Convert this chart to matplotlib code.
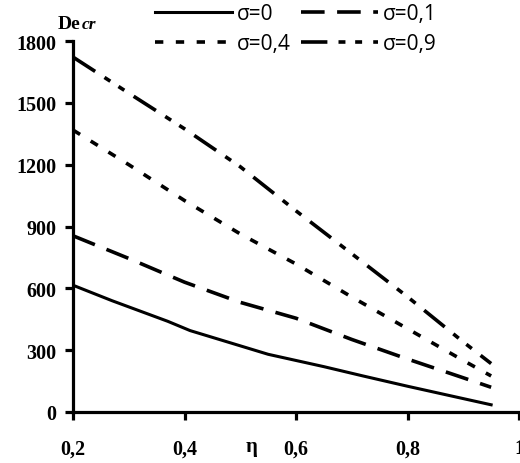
import matplotlib
matplotlib.use("Agg")
import matplotlib.pyplot as plt

# eta values and critical Deborah numbers for each sigma
eta = [0.2, 0.3, 0.4, 0.5, 0.6, 0.7, 0.8, 0.9, 0.95]
eta_s0 = [0.2, 0.27, 0.37, 0.41, 0.55, 0.65, 0.72, 0.8, 0.95]
de_s0 = [615, 540, 440, 395, 280, 220, 175, 125, 35]
de_s01 = [855, 745, 630, 532, 455, 352, 257, 166, 120]
de_s04 = [1368, 1200, 1026, 864, 718, 558, 404, 250, 175]
de_s09 = [1722, 1547, 1374, 1190, 976, 768, 559, 340, 235]

labels = ["σ=0", "σ=0,1", "σ=0,4", "σ=0,9"]
xticks = [0.2, 0.4, 0.6, 0.8, 1.0]
xtick_labels = ["0,2", "0,4", "0,6", "0,8", "1"]
yticks = [0, 300, 600, 900, 1200, 1500, 1800]

plt.rcParams["lines.scale_dashes"] = False

fig = plt.figure(figsize=(5.2, 4.64), dpi=100)
ax = fig.add_axes([73 / 520, 1 - 413 / 464, 446 / 520, 371 / 464])

lw = 2.6
l0, = ax.plot(eta_s0, de_s0, color="black", lw=2.2, label=labels[0])
l1, = ax.plot(eta, de_s01, color="black", lw=lw, dashes=(17, 9), label=labels[1])
l2, = ax.plot(eta, de_s04, color="black", lw=lw, dashes=(6, 9), label=labels[2])
l3, = ax.plot(eta, de_s09, color="black", lw=lw, dashes=(19, 8, 5, 7, 5, 8), label=labels[3])

ax.set_xlim(0.2, 1.0)
ax.set_ylim(0, 1800)
ax.set_xticks(xticks)
ax.set_xticklabels(xtick_labels)
ax.set_yticks(yticks)

for s in ["top", "right"]:
    ax.spines[s].set_visible(False)
for s in ["left", "bottom"]:
    ax.spines[s].set_linewidth(2.3)
ax.spines["bottom"].set_clip_on(False)

ax.tick_params(axis="both", direction="out", length=6, width=2.3)
ax.tick_params(axis="y", pad=6)
ax.tick_params(axis="x", pad=13)
for t in ax.get_xticklabels() + ax.get_yticklabels():
    t.set_fontfamily("Liberation Serif")
    t.set_fontweight("bold")
    t.set_fontsize(14.5)
    t.set_clip_on(False)

# axis labels
fig.text(252 / 520, 1 - 447 / 464, "η", family="Liberation Serif", weight="bold",
         fontsize=15, ha="center", va="center")
fig.text(58 / 520, 1 - 29 / 464, "De", family="Liberation Serif", weight="bold",
         fontsize=14, va="baseline")
fig.text(82 / 520, 1 - 29 / 464, "cr", family="Liberation Serif", weight="bold",
         style="italic", fontsize=12.5, va="baseline")

# legend is filled column-wise, so reorder to get sigma=0, 0.1 on the first row
ax.legend([l0, l2, l1, l3], [labels[0], labels[2], labels[1], labels[3]],
          ncol=2, loc="upper left", bbox_to_anchor=(155 / 520, 1 - 4 / 464),
          bbox_transform=fig.transFigure, frameon=False, borderpad=0,
          borderaxespad=0, handlelength=3.7, handletextpad=0.25,
          columnspacing=0.45, labelspacing=0.45,
          prop={"family": "Open Sans", "size": 15})

fig.savefig("out.png", dpi=100)
